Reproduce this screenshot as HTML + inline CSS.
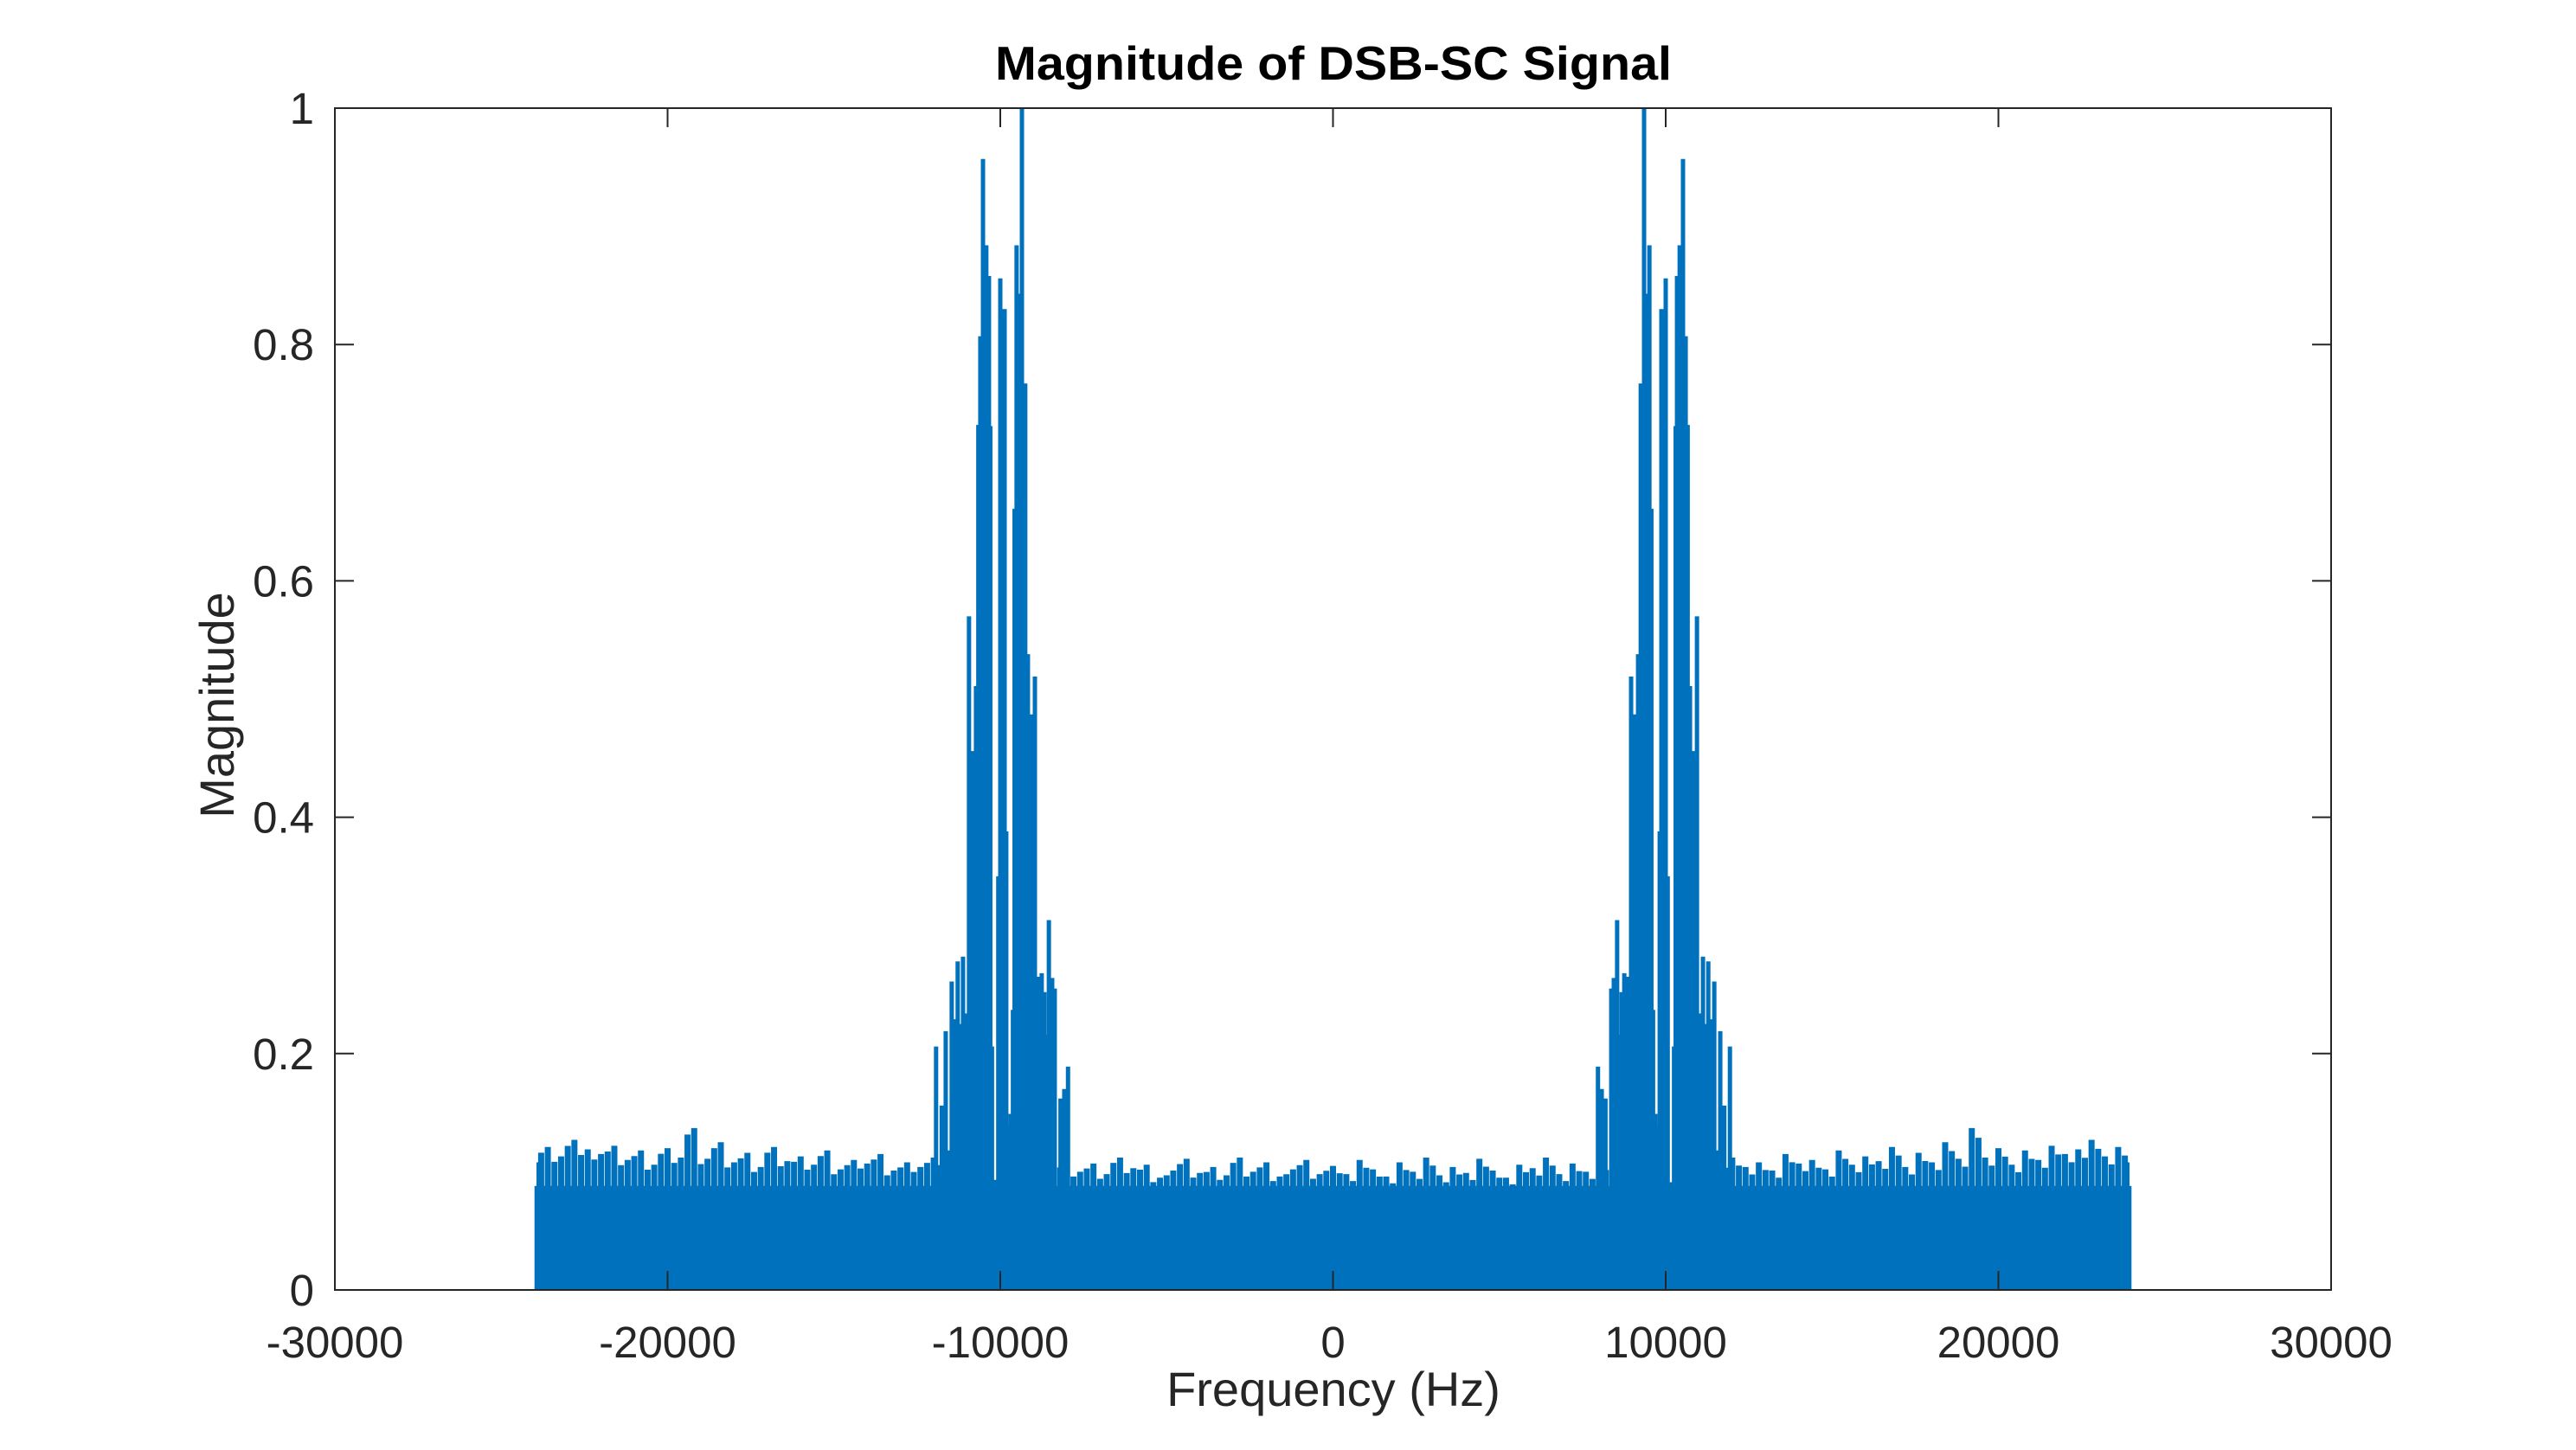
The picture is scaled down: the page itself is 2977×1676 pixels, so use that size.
<!DOCTYPE html>
<html><head><meta charset="utf-8"><style>
html,body{margin:0;padding:0;background:#fff;}
svg{display:block;font-family:"Liberation Sans",Arial,sans-serif;}
</style></head><body>
<svg id="chart" width="2977" height="1676" viewBox="0 0 2977 1676" xmlns="http://www.w3.org/2000/svg">
<rect x="387" y="125" width="2307" height="1366" fill="#fff"/>
<g id="series"></g>
<g id="axes"></g>
<text x="1541" y="92" text-anchor="middle" font-size="55" font-weight="bold" textLength="782" lengthAdjust="spacingAndGlyphs">Magnitude of DSB-SC Signal</text>
<text x="1541" y="1625" text-anchor="middle" font-size="56" fill="#262626">Frequency (Hz)</text>
<text transform="translate(270,815) rotate(-90)" text-anchor="middle" font-size="56" fill="#262626">Magnitude</text>
</svg>
<script>
const xTicks = [-30000,-20000,-10000,0,10000,20000,30000];
const xTickLabels = ["-30000","-20000","-10000","0","10000","20000","30000"];
const yTicks = [0,0.2,0.4,0.6,0.8,1];
const yTickLabels = ["0","0.2","0.4","0.6","0.8","1"];
// positive-side peak components (mirrored to negative side)
const peakFreqs = [7964,8077,8190,8363,8440,8540,8600,8675,8755,8850,8960,9065,9170,9250,9350,9420,9510,9570,9620,9690,9760,9820,9870,10000,10060,10250,10300,10340,10420,10520,10600,10660,10730,10830,10940,11010,11120,11200,11280,11370,11460,11550,11640,11760,11930];
const peakMags  = [0.189,0.170,0.162,0.255,0.264,0.313,0.216,0.252,0.268,0.265,0.519,0.487,0.538,0.767,1.0,0.843,0.884,0.661,0.237,0.149,0.139,0.388,0.830,0.856,0.350,0.206,0.731,0.858,0.884,0.957,0.807,0.732,0.511,0.456,0.570,0.234,0.282,0.225,0.278,0.229,0.261,0.118,0.219,0.156,0.206];
// noise envelope, 0..24000 Hz in 400 Hz steps (mirrored)
const noiseFreqs = [0,400,800,1200,1600,2000,2400,2800,3200,3600,4000,4400,4800,5200,5600,6000,6400,6800,7200,7600,8000,8400,8800,9200,9600,10000,10400,10800,11200,11600,12000,12400,12800,13200,13600,14000,14400,14800,15200,15600,16000,16400,16800,17200,17600,18000,18400,18800,19200,19600,20000,20400,20800,21200,21600,22000,22400,22800,23200,23600,24000];
const noiseMags = [0.105,0.098,0.110,0.102,0.096,0.108,0.100,0.112,0.097,0.104,0.099,0.111,0.101,0.095,0.106,0.103,0.112,0.098,0.107,0.100,0.108,0.102,0.099,0.105,0.101,0.097,0.103,0.100,0.106,0.110,0.112,0.104,0.108,0.101,0.115,0.107,0.110,0.102,0.118,0.106,0.113,0.109,0.121,0.104,0.116,0.108,0.125,0.111,0.137,0.112,0.120,0.106,0.118,0.110,0.122,0.115,0.119,0.127,0.113,0.121,0.108];
const noiseFloor = 0.088;
const fMin = -24000, fMax = 24000;

const X0=387, X1=2694, Y0=1491, Y1=125;
const xMin=-30000, xMax=30000, yMin=0, yMax=1;
const xs = f => X0 + (f - xMin) / (xMax - xMin) * (X1 - X0);
const ys = v => Y0 - (v - yMin) / (yMax - yMin) * (Y0 - Y1);
const NS="http://www.w3.org/2000/svg";
const series=document.getElementById('series');
const axes=document.getElementById('axes');
const blue="#0072BD";

const base=document.createElementNS(NS,'rect');


base.setAttribute('x',xs(fMin)); base.setAttribute('width',xs(fMax)-xs(fMin));
base.setAttribute('y',ys(noiseFloor)); base.setAttribute('height',ys(0)-ys(noiseFloor));
base.setAttribute('fill',blue);
series.appendChild(base);

function bar(f,v,w){
  const l=document.createElementNS(NS,'line');
  
  
  l.setAttribute('x1',xs(f)); l.setAttribute('x2',xs(f));
  l.setAttribute('y1',ys(0)); l.setAttribute('y2',ys(v));
  l.setAttribute('stroke',blue); l.setAttribute('stroke-width',w);
  series.appendChild(l);
}
noiseFreqs.forEach((f,i)=>{
  const v=noiseMags[i];
  const ff=Math.min(f,fMax-150);
  bar(ff,v,7); if(f>0) bar(-ff,v,7);
  if(f+200<fMax){ bar(f+200,v*0.94,7); bar(-(f+200),v*0.96,7); }
});
peakFreqs.forEach((f,i)=>{ bar(f,peakMags[i],5); bar(-f,peakMags[i],5); });

const box=document.createElementNS(NS,'rect');


box.setAttribute('x',X0); box.setAttribute('y',Y1);
box.setAttribute('width',X1-X0); box.setAttribute('height',Y0-Y1);
box.setAttribute('fill','none'); box.setAttribute('stroke','#262626'); box.setAttribute('stroke-width','2');
axes.appendChild(box);

xTicks.forEach((t,i)=>{
  const x=xs(t);
  [[Y0,Y0-22],[Y1,Y1+22]].forEach(([a,b])=>{
    const l=document.createElementNS(NS,'line');
    
    
    l.setAttribute('x1',x);l.setAttribute('x2',x);l.setAttribute('y1',a);l.setAttribute('y2',b);
    l.setAttribute('stroke','#262626');l.setAttribute('stroke-width','2');
    axes.appendChild(l);
  });
  const tx=document.createElementNS(NS,'text');
  
  
  tx.setAttribute('x',x); tx.setAttribute('y',1569);
  tx.setAttribute('text-anchor','middle'); tx.setAttribute('font-size','51'); tx.setAttribute('fill','#262626');
  tx.textContent=xTickLabels[i];
  axes.appendChild(tx);
});
yTicks.forEach((t,i)=>{
  const y=ys(t);
  [[X0,X0+22],[X1,X1-22]].forEach(([a,b])=>{
    const l=document.createElementNS(NS,'line');
    
    
    l.setAttribute('x1',a);l.setAttribute('x2',b);l.setAttribute('y1',y);l.setAttribute('y2',y);
    l.setAttribute('stroke','#262626');l.setAttribute('stroke-width','2');
    axes.appendChild(l);
  });
  const tx=document.createElementNS(NS,'text');
  
  
  tx.setAttribute('x',363); tx.setAttribute('y',y+18);
  tx.setAttribute('text-anchor','end'); tx.setAttribute('font-size','51'); tx.setAttribute('fill','#262626');
  tx.textContent=yTickLabels[i];
  axes.appendChild(tx);
});
</script>
</body></html>
